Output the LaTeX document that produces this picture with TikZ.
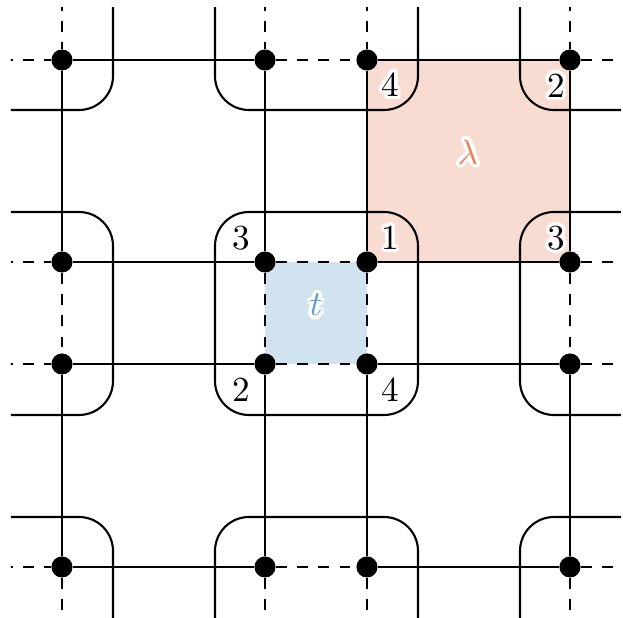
\documentclass[tikz,border=0pt]{standalone}
\usetikzlibrary{calc}
\definecolor{pinkfill}{RGB}{249,220,209}
\definecolor{bluefill}{RGB}{208,227,238}
\definecolor{lamcol}{RGB}{238,128,88}
\definecolor{tcol}{RGB}{92,156,206}
\tikzset{
  edge/.style={line width=0.6pt},
  dedge/.style={line width=0.6pt, dashed},
  loopline/.style={line width=0.6pt, rounded corners=0.34cm},
  site/.style={circle, fill=black, minimum size=6pt, inner sep=0pt},
  lab/.style={inner sep=0pt},
}
\newcommand{\halolabel}[4]{%
  \foreach \a in {0,22.5,...,337.5}{\node[lab,text=white] at ($(#1)+(\a:1pt)$) {#3};}
  \node[lab,text=#4] (#2) at (#1) {#3};
}
\begin{document}
\begin{tikzpicture}[x=0.01cm,y=-0.01cm]
\useasboundingbox (0,0) rectangle (623,618);
\begin{scope}
\clip (11,8) rectangle (621,618);
% lattice positions
\foreach \r/\y in {0/-42,1/60,2/262,3/364,4/567,5/669}{
  \coordinate (n0\r) at (-40,\y);
  \coordinate (n5\r) at (672,\y);
}
\foreach \c/\x in {1/62,2/265,3/367,4/570}{
  \coordinate (n\c0) at (\x,-42);
  \coordinate (n\c5) at (\x,669);
  \foreach \r/\y in {1/60,2/262,3/364,4/567}{
    \coordinate (q\c\r) at (\x,\y);
  }
}
% plaquette fills
\fill[pinkfill] (q31) rectangle (q42);
\fill[bluefill] (q22) rectangle (q33);
% loops around the small plaquettes
\foreach \cx in {11.5,316.5,621.5}{
  \foreach \cy in {8.5,313.5,618.5}{
    \draw[loopline] (\cx-101.5,\cy-101.5) rectangle (\cx+101.5,\cy+101.5);
  }
}
% sites
\foreach \c in {1,...,4}{
  \foreach \r in {1,...,4}{
    \node[site] (n\c\r) at (q\c\r) {};
  }
}
% horizontal edges
\foreach \r in {1,...,4}{
  \draw[dedge] (n0\r) -- (n1\r);
  \draw[edge]  (n1\r) -- (n2\r);
  \draw[dedge] (n2\r) -- (n3\r);
  \draw[edge]  (n3\r) -- (n4\r);
  \draw[dedge] (n4\r) -- (n5\r);
}
% vertical edges
\foreach \c in {1,...,4}{
  \draw[dedge] (n\c0) -- (n\c1);
  \draw[edge]  (n\c1) -- (n\c2);
  \draw[dedge] (n\c2) -- (n\c3);
  \draw[edge]  (n\c3) -- (n\c4);
  \draw[dedge] (n\c4) -- (n\c5);
}
% labels
\node[lab] (l3a) at (241,238) {$3$};
\node[lab] (l2a) at (241,390) {$2$};
\node[lab] (l4a) at (390,390) {$4$};
\halolabel{390,238}{l1b}{$1$}{black}
\halolabel{390,85}{l4b}{$4$}{black}
\halolabel{556,86}{l2b}{$2$}{black}
\halolabel{556,238}{l3b}{$3$}{black}
\halolabel{468,152}{lam}{$\lambda$}{lamcol}
\halolabel{316,305}{tt}{$t$}{tcol}
\end{scope}
\end{tikzpicture}
\end{document}
